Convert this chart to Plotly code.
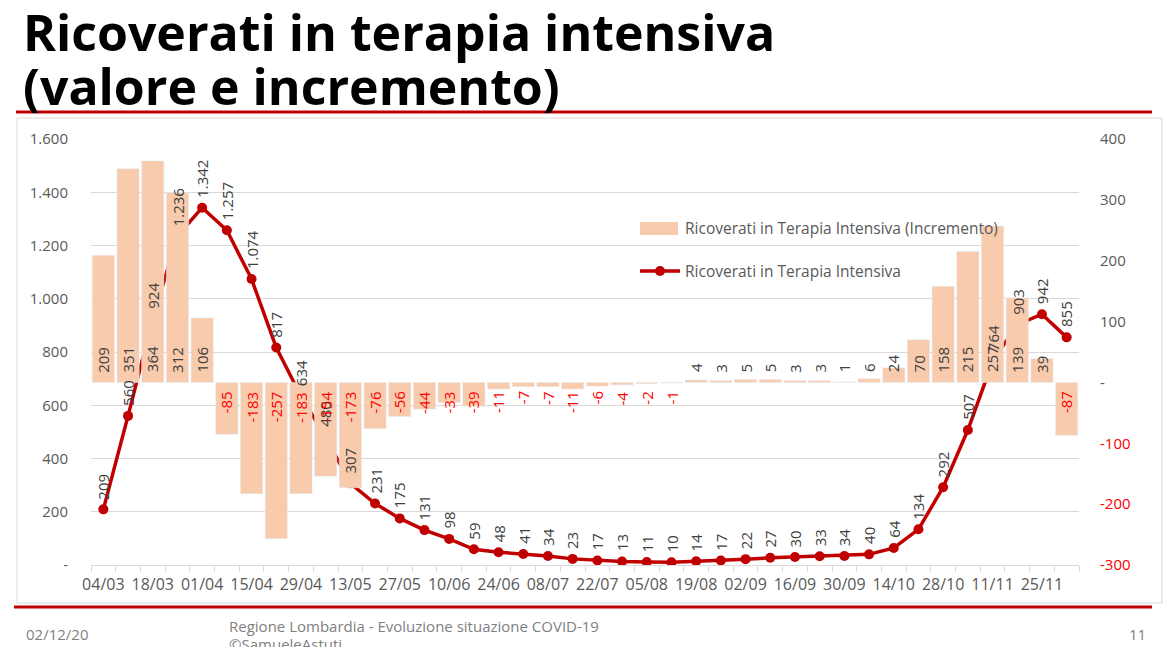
import plotly.graph_objects as go

# ---------------- data ----------------
dates = ["04/03", "11/03", "18/03", "25/03", "01/04", "08/04", "15/04", "22/04",
         "29/04", "06/05", "13/05", "20/05", "27/05", "03/06", "10/06", "17/06",
         "24/06", "01/07", "08/07", "15/07", "22/07", "29/07", "05/08", "12/08",
         "19/08", "26/08", "02/09", "09/09", "16/09", "23/09", "30/09", "07/10",
         "14/10", "21/10", "28/10", "04/11", "11/11", "18/11", "25/11", "02/12"]
ricoverati = [209, 560, 924, 1236, 1342, 1257, 1074, 817, 634, 480, 307, 231, 175,
              131, 98, 59, 48, 41, 34, 23, 17, 13, 11, 10, 14, 17, 22, 27, 30, 33,
              34, 40, 64, 134, 292, 507, 764, 903, 942, 855]
incremento = [209, 351, 364, 312, 106, -85, -183, -257, -183, -154, -173, -76, -56,
              -44, -33, -39, -11, -7, -7, -11, -6, -4, -2, -1, 4, 3, 5, 5, 3, 3,
              1, 6, 24, 70, 158, 215, 257, 139, 39, -87]
left_ticks = [0, 200, 400, 600, 800, 1000, 1200, 1400, 1600]
right_ticks = [-300, -200, -100, 0, 100, 200, 300, 400]
name_bar = "Ricoverati in Terapia Intensiva (Incremento)"
name_line = "Ricoverati in Terapia Intensiva"

# ---------------- style ----------------
W, H = 1168, 647
L, R, T, B = 91, 89, 139, 82
PW, PH = W - L - R, H - T - B
RED = "#C00000"
BAR = "#F8CBAD"
GRAY = "#595959"
LBL = "#404040"
FOOT = "#7F7F7F"
FONT = "Open Sans"


def fx(px):
    return (px - L) / PW


def fy(py):
    return (H - B - py) / PH


def fmt(v):
    if v == 0:
        return "-"
    return f"{v:,}".replace(",", ".")


xs = list(range(len(dates)))

fig = go.Figure()
fig.add_trace(go.Bar(
    x=xs, y=incremento, yaxis="y2", marker_color=BAR,
    name=name_bar, hoverinfo="skip",
))
fig.add_trace(go.Scatter(
    x=xs, y=ricoverati, yaxis="y", mode="lines+markers",
    line=dict(color=RED, width=3.5), marker=dict(color=RED, size=10),
    name=name_line,
))

annotations = []
# line labels
for x, v in zip(xs, ricoverati):
    annotations.append(dict(
        x=x, y=v, xref="x", yref="y", text=fmt(v), textangle=-90,
        showarrow=False, yanchor="bottom", xanchor="center", yshift=8,
        font=dict(family=FONT, size=15, color=LBL),
    ))
# bar labels
for x, v in zip(xs, incremento):
    neg = v < 0
    annotations.append(dict(
        x=x, y=0, xref="x", yref="y2", text=str(v), textangle=-90,
        showarrow=False, yanchor="top" if neg else "bottom", xanchor="center",
        yshift=-7 if neg else 8,
        font=dict(family=FONT, size=15, color="#FF0000" if neg else LBL),
    ))

# title
annotations.append(dict(
    xref="paper", yref="paper", x=fx(21), y=fy(32), xanchor="left", yanchor="middle",
    text="<b>Ricoverati in terapia intensiva</b>", showarrow=False,
    font=dict(family=FONT, size=50, color="black"),
))
annotations.append(dict(
    xref="paper", yref="paper", x=fx(21), y=fy(86), xanchor="left", yanchor="middle",
    text="<b>(valore e incremento)</b>", showarrow=False,
    font=dict(family=FONT, size=50, color="black"),
))
# legend (drawn by hand to match the wide swatches)
annotations.append(dict(
    xref="paper", yref="paper", x=fx(683), y=fy(228), xanchor="left", yanchor="middle",
    text=name_bar, showarrow=False, font=dict(family=FONT, size=15.5, color=GRAY),
))
annotations.append(dict(
    xref="paper", yref="paper", x=fx(683), y=fy(271), xanchor="left", yanchor="middle",
    text=name_line, showarrow=False, font=dict(family=FONT, size=15.5, color=GRAY),
))
# footer
annotations.append(dict(
    xref="paper", yref="paper", x=fx(24), y=fy(634), xanchor="left", yanchor="middle",
    text="02/12/20", showarrow=False, font=dict(family=FONT, size=15, color=FOOT),
))
annotations.append(dict(
    xref="paper", yref="paper", x=fx(227), y=fy(626), xanchor="left", yanchor="middle",
    text="Regione Lombardia - Evoluzione situazione COVID-19", showarrow=False,
    font=dict(family=FONT, size=15, color=FOOT),
))
annotations.append(dict(
    xref="paper", yref="paper", x=fx(227), y=fy(644), xanchor="left", yanchor="middle",
    text="©SamueleAstuti", showarrow=False,
    font=dict(family=FONT, size=15, color=FOOT),
))
annotations.append(dict(
    xref="paper", yref="paper", x=fx(1148), y=fy(634), xanchor="right", yanchor="middle",
    text="11", showarrow=False, font=dict(family=FONT, size=15, color=FOOT),
))

shapes = [
    dict(type="rect", xref="paper", yref="paper", x0=fx(17), x1=fx(1162),
         y0=fy(603), y1=fy(118), line=dict(color="#D9D9D9", width=1), layer="below"),
    dict(type="line", xref="paper", yref="paper", x0=fx(16), x1=fx(1152),
         y0=fy(112), y1=fy(112), line=dict(color=RED, width=3)),
    dict(type="line", xref="paper", yref="paper", x0=fx(14), x1=fx(1152),
         y0=fy(607), y1=fy(607), line=dict(color=RED, width=3)),
    # legend swatches
    dict(type="rect", xref="paper", yref="paper", x0=fx(640), x1=fx(678),
         y0=fy(235), y1=fy(222), fillcolor=BAR, line=dict(width=0)),
    dict(type="line", xref="paper", yref="paper", x0=fx(640), x1=fx(680),
         y0=fy(271), y1=fy(271), line=dict(color=RED, width=3.5)),
    dict(type="circle", xref="paper", yref="paper", x0=fx(655), x1=fx(665),
         y0=fy(276), y1=fy(266), fillcolor=RED, line=dict(width=0)),
]

fig.update_layout(
    width=W, height=H,
    margin=dict(l=L, r=R, t=T, b=B, autoexpand=False),
    plot_bgcolor="white", paper_bgcolor="white",
    font=dict(family=FONT, color=GRAY),
    bargap=0.1,
    showlegend=False,
    xaxis=dict(
        range=[-0.5, len(dates) - 0.5],
        tickvals=xs[::2], ticktext=dates[::2],
        ticks="", showgrid=False, zeroline=False,
        showline=True, linecolor="#D9D9D9", linewidth=1,
        ticklabelstandoff=5,
        tickfont=dict(family=FONT, size=16, color=GRAY),
        minor=dict(ticks="outside", tick0=-0.5, dtick=1, ticklen=6,
                   tickcolor="#D9D9D9", showgrid=False),
    ),
    yaxis=dict(
        range=[0, 1600], tickvals=left_ticks, ticktext=[fmt(v) for v in left_ticks],
        showgrid=True, gridcolor="#D9D9D9", zeroline=False, ticks="",
        ticklabelstandoff=22,
        tickfont=dict(family=FONT, size=15, color=GRAY),
    ),
    yaxis2=dict(
        range=[-300, 400], overlaying="y", side="right",
        tickvals=right_ticks,
        ticktext=[(f'<span style="color:#FF0000">{v}</span>' if v < 0 else fmt(v))
                  for v in right_ticks],
        showgrid=False, zeroline=False, ticks="",
        ticklabelstandoff=20,
        tickfont=dict(family=FONT, size=15, color=GRAY),
    ),
    annotations=annotations,
    shapes=shapes,
)

fig.write_html("out.html", config={"displayModeBar": False},
               post_script="document.body.style.margin='0px';")
